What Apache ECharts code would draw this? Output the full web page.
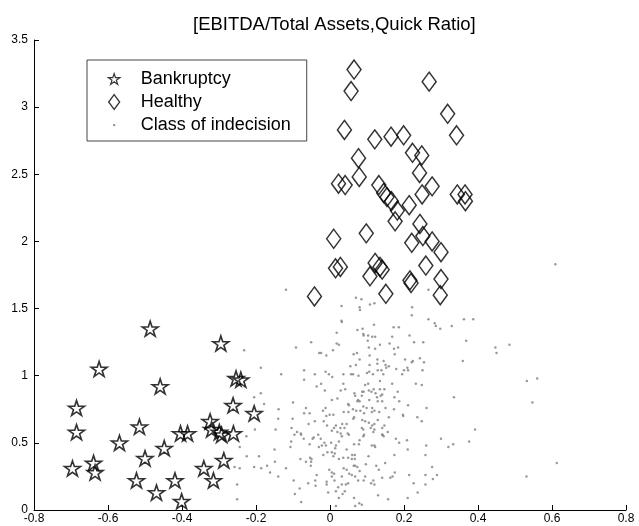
<!DOCTYPE html>
<html>
<head>
<meta charset="utf-8">
<script src="https://cdn.jsdelivr.net/npm/echarts@6/dist/echarts.min.js"></script>
<style>
html,body{margin:0;padding:0;background:#fff;}
#main{width:639px;height:526px;}
</style>
</head>
<body>
<div id="main"></div>
<script>
const titleText = '[EBITDA/Total Assets,Quick Ratio]';
const seriesNames = ['Bankruptcy', 'Healthy', 'Class of indecision'];
const xTicks = { min: -0.8, max: 0.8, interval: 0.2 };
const yTicks = { min: 0, max: 3.5, interval: 0.5 };

const bankruptcy = [
[-0.486,1.35],[-0.295,1.24],[-0.624,1.05],[-0.459,0.92],[-0.254,0.98],[-0.241,0.97],[-0.685,0.76],[-0.262,0.78],[-0.205,0.72],[-0.685,0.58],[-0.515,0.62],[-0.569,0.50],[-0.404,0.57],[-0.385,0.57],[-0.324,0.66],[-0.32,0.60],[-0.299,0.58],[-0.293,0.56],[-0.261,0.57],[-0.448,0.46],[-0.5,0.385],[-0.287,0.37],[-0.639,0.35],[-0.696,0.31],[-0.635,0.28],[-0.341,0.31],[-0.523,0.22],[-0.419,0.22],[-0.315,0.22],[-0.469,0.13],[-0.401,0.065]
];

const healthy = [
[0.065,3.28],[0.057,3.12],[0.268,3.19],[0.318,2.95],[0.039,2.83],[0.342,2.79],[0.121,2.76],[0.165,2.78],[0.199,2.79],[0.223,2.66],[0.248,2.64],[0.077,2.62],[0.242,2.51],[0.079,2.48],[0.023,2.43],[0.041,2.42],[0.132,2.42],[0.145,2.36],[0.154,2.33],[0.276,2.41],[0.249,2.35],[0.344,2.35],[0.365,2.35],[0.366,2.30],[0.166,2.30],[0.182,2.23],[0.214,2.27],[0.176,2.15],[0.243,2.13],[0.01,2.02],[0.098,2.06],[0.251,2.04],[0.276,2.0],[0.3,1.92],[0.221,1.99],[0.015,1.80],[0.028,1.81],[0.122,1.84],[0.135,1.81],[0.141,1.79],[0.108,1.74],[0.259,1.82],[0.216,1.71],[0.219,1.69],[0.3,1.72],[0.151,1.61],[0.298,1.60],[-0.042,1.59]
];

const indecisionLeft = [
[-0.119,1.64],[-0.051,1.25],[-0.092,1.21],[-0.232,1.19],[-0.029,1.17],[-0.187,1.06],[-0.070,1.04],[-0.041,1.01],[-0.132,1.01],[-0.070,0.97],[-0.036,0.92],[-0.187,0.87],
[-0.205,0.84],[-0.178,0.79],[-0.100,0.80],[-0.065,0.76],[-0.070,0.72],[-0.055,0.72],[-0.139,0.75],[-0.140,0.68],[-0.101,0.68],[-0.041,0.66],[-0.058,0.64],[-0.104,0.61],[-0.147,0.60],[-0.203,0.60],[-0.089,0.58],[-0.079,0.57],[-0.078,0.56],[-0.096,0.56],[-0.044,0.54],[-0.047,0.53],[-0.032,0.56],[-0.226,0.55],[-0.071,0.53],[-0.105,0.51],[-0.055,0.49],[-0.030,0.47],[-0.244,0.47],[-0.107,0.47],[-0.150,0.45],[-0.225,0.40],[-0.192,0.40],[-0.080,0.38],[-0.054,0.39],[-0.050,0.38],[-0.065,0.36],[-0.051,0.36],[-0.149,0.36],[-0.170,0.33],[-0.258,0.32],[-0.244,0.31],[-0.205,0.32],[-0.186,0.31],[-0.119,0.31],[-0.052,0.33],[-0.162,0.28],[-0.140,0.25],[-0.036,0.26],[-0.098,0.22],[-0.059,0.20],[-0.039,0.18],[-0.040,0.22],[-0.251,0.19],[-0.082,0.16],[-0.095,0.12],[-0.251,0.08],[-0.078,0.06]
];

const indecisionUpper = [
[0.070,1.58],[0.085,1.57],[0.266,1.64],[0.108,1.53],[0.120,1.54],[0.031,1.52],[0.080,1.51],[0.081,1.49],[0.222,1.51],[0.221,1.45],[0.266,1.42],[0.031,1.41],[0.032,1.40],[0.119,1.38],[0.172,1.36],[0.186,1.36],[0.088,1.35],[0.074,1.34],[0.018,1.32],[0.090,1.31],[0.091,1.30],[0.103,1.30],[0.114,1.29],[0.122,1.29],[0.168,1.29],[0.215,1.30],[0.102,1.26],[0.227,1.25],[0.018,1.24],[0.024,1.23],[0.161,1.24],[0.135,1.23],[0.184,1.21],[0.105,1.21],[0.122,1.20],[0.008,1.19],[0.173,1.20],[-0.024,1.17],[0.073,1.17],[-0.010,1.15],[0.064,1.16],[0.175,1.16],[0.107,1.15],[0.203,1.12],[0.243,1.13],[0.080,1.12],[0.128,1.12],[0.145,1.11],[0.254,1.10],[0.070,1.08],[0.055,1.07],[0.107,1.08],[0.128,1.09],[0.150,1.08],[0.159,1.07],[0.152,1.06],[0.179,1.05],[0.209,1.06],[0.211,1.04],[0.200,1.04],[0.250,1.04],[0.129,1.04],[0.139,1.04],[0.106,1.03],[0.100,1.02],[-0.012,1.03],[0.057,1.01],[0.062,1.01],[0.036,1.01],[0.144,1.01],[-0.003,1.01],[0.077,1.00],[0.116,1.01],[0.195,1.01],[0.006,0.99],[0.135,0.96],[-0.024,0.94],[0.036,0.94],[0.095,0.93],[0.103,0.94],[0.168,0.94],[0.232,0.94],[0.248,0.93],[0.118,0.90],[0.105,0.89],[0.112,0.88],[0.135,0.90],[0.147,0.90],[0.087,0.88],[0.091,0.88],[0.029,0.89],[0.041,0.90],[-0.014,0.89],[0.183,0.88],[0.066,0.87],[0.123,0.87],[0.141,0.86]
];

const indecisionLower = [
[0.068,0.85],[0.086,0.85],[0.174,0.84],[0.020,0.83],[0.127,0.84],[0.137,0.85],[0.106,0.82],[0.076,0.82],[0.080,0.81],[0.074,0.81],[0.005,0.82],[0.187,0.81],[0.129,0.81],[0.141,0.81],[0.211,0.78],[0.049,0.79],[0.051,0.78],[0.090,0.77],[0.099,0.76],[-0.012,0.76],[-0.019,0.74],[0.261,0.76],[0.062,0.75],[0.071,0.74],[0.082,0.74],[0.114,0.76],[0.120,0.74],[0.113,0.73],[0.150,0.76],[0.173,0.75],[0.133,0.73],[0.037,0.73],[0.050,0.73],[0.092,0.72],[-0.001,0.71],[-0.010,0.70],[0.009,0.71],[0.197,0.71],[0.198,0.70],[0.065,0.69],[0.063,0.68],[0.159,0.69],[0.236,0.69],[0.087,0.67],[0.095,0.66],[0.129,0.67],[0.248,0.66],[-0.017,0.66],[0.033,0.64],[0.045,0.64],[0.016,0.63],[0.105,0.65],[0.120,0.64],[0.114,0.63],[0.147,0.63],[-0.008,0.63],[0.011,0.61],[0.039,0.61],[0.028,0.61],[0.086,0.61],[0.090,0.60],[0.110,0.61],[0.120,0.60],[0.141,0.61],[0.005,0.59],[0.117,0.58],[0.020,0.58],[0.029,0.57],[0.048,0.57],[0.051,0.56],[0.156,0.58],[0.141,0.56],[0.145,0.55],[0.142,0.56],[0.090,0.55],[0.092,0.56],[0.032,0.55],[-0.025,0.53],[0.178,0.53],[0.208,0.52],[0.024,0.51],[0.080,0.52],[-0.015,0.50],[0.003,0.50],[0.187,0.50],[0.065,0.49],[0.078,0.49],[-0.022,0.48],[-0.011,0.48],[0.016,0.48],[0.120,0.48],[0.113,0.48],[0.122,0.47],[0.260,0.48],[0.014,0.46],[0.045,0.45],[0.210,0.45],[0.005,0.43],[0.013,0.42],[-0.007,0.43],[-0.018,0.41],[0.009,0.40],[0.174,0.41],[0.258,0.41],[0.060,0.41],[0.067,0.41],[0.104,0.40],[0.024,0.38],[0.036,0.39],[0.049,0.39],[0.059,0.38],[0.067,0.38],[0.149,0.35],[0.097,0.34],[0.064,0.33],[0.068,0.33],[0.074,0.32],[0.125,0.33],[0.037,0.31],[0.045,0.30],[-0.002,0.30],[0.132,0.30],[0.175,0.28],[0.080,0.29],[0.005,0.28],[0.011,0.27],[0.005,0.25],[0.052,0.27],[0.059,0.26],[0.032,0.25],[0.095,0.25],[0.068,0.25],[0.169,0.25],[0.163,0.24],[0.214,0.26],[0.258,0.26],[0.141,0.24],[0.278,0.23],[0.012,0.22],[0.076,0.22],[0.091,0.22],[0.117,0.22],[0.111,0.20],[0.120,0.19],[-0.009,0.21],[-0.009,0.19],[0.049,0.20],[0.043,0.19],[0.032,0.19],[0.226,0.20],[0.258,0.19],[0.022,0.17],[0.040,0.14],[0.034,0.12],[0.016,0.14],[-0.005,0.13],[0.237,0.13],[0.130,0.11],[0.065,0.09],[0.024,0.09],[0.157,0.08],[0.210,0.09],[0.079,0.05],[0.086,0.04],[0.068,0.03],[0.016,0.03]
];

const indecisionRight = [
[0.609,1.83],[0.362,1.42],[0.387,1.42],[0.283,1.39],[0.286,1.37],[0.298,1.35],[0.329,1.37],[0.252,1.25],[0.368,1.26],[0.447,1.21],[0.450,1.17],[0.485,1.23],[0.224,1.11],[0.221,1.10],[0.359,1.11],[0.532,0.96],[0.560,0.98],[0.335,0.84],[0.547,0.80],[0.392,0.60],[0.300,0.53],[0.320,0.47],[0.333,0.49],[0.376,0.51],[0.276,0.32],[0.289,0.26],[0.531,0.25],[0.613,0.35]
];

const indecision = indecisionLeft.concat(indecisionUpper, indecisionLower, indecisionRight);

const FONT = '"Liberation Sans", Arial, Helvetica, sans-serif';
const starPath = 'path://M50,0 L61.2,34.5 L97.6,34.5 L68.2,55.9 L79.4,90.5 L50,69.1 L20.6,90.5 L31.8,55.9 L2.4,34.5 L38.8,34.5 Z';
// legend icons drawn in a 43x16 box (the leading moves fix the box)
const starIcon = 'path://M0,0 M43,16 M21.5,2.6 L22.84,6.71 L27.21,6.71 L23.68,9.28 L25.03,13.43 L21.5,10.86 L17.97,13.43 L19.32,9.28 L15.79,6.71 L20.16,6.71 Z';
const diamondIcon = 'path://M0,0 M43,16 M21.5,0.6 L27,8 L21.5,15.4 L16,8 Z';
const dotIcon = 'path://M0,0 M43,16 M20.4,7 L22.6,7 L22.6,9.2 L20.4,9.2 Z';

const chart = echarts.init(document.getElementById('main'), null, { renderer: 'canvas' });
chart.setOption({
  animation: false,
  backgroundColor: '#fff',
  textStyle: { fontFamily: FONT },
  title: {
    text: titleText,
    left: 188,
    top: 10,
    textStyle: { fontFamily: FONT, fontSize: 18.5, fontWeight: 'normal', color: '#000' }
  },
  legend: {
    orient: 'vertical',
    left: 87,
    top: 60,
    padding: [10, 16, 7, 5],
    itemWidth: 43,
    itemHeight: 16,
    itemGap: 5,
    borderColor: '#444',
    borderWidth: 1,
    backgroundColor: '#fff',
    textStyle: { fontFamily: FONT, fontSize: 18, color: '#000' },
    data: [
      { name: seriesNames[0], icon: starIcon, itemStyle: { borderWidth: 1.2 } },
      { name: seriesNames[1], icon: diamondIcon, itemStyle: { borderWidth: 1.3 } },
      { name: seriesNames[2], icon: dotIcon }
    ]
  },
  grid: { left: 34, right: 13, top: 40, bottom: 16 },
  xAxis: {
    type: 'value',
    min: xTicks.min, max: xTicks.max, interval: xTicks.interval,
    axisLine: { onZero: false, lineStyle: { color: '#000', width: 1 } },
    axisTick: { inside: true, length: 5, lineStyle: { color: '#000' } },
    axisLabel: { color: '#000', fontSize: 12, margin: 3, fontFamily: FONT },
    splitLine: { show: false }
  },
  yAxis: {
    type: 'value',
    min: yTicks.min, max: yTicks.max, interval: yTicks.interval,
    axisLine: { show: true, onZero: false, lineStyle: { color: '#000', width: 1 } },
    axisTick: { show: true, inside: true, length: 5, lineStyle: { color: '#000' } },
    axisLabel: { color: '#000', fontSize: 12, margin: 6, fontFamily: FONT },
    splitLine: { show: false }
  },
  series: [
    {
      name: seriesNames[2], type: 'scatter', data: indecision,
      symbol: 'circle', symbolSize: 2.5,
      itemStyle: { color: '#808080' }, z: 1
    },
    {
      name: seriesNames[0], type: 'scatter', data: bankruptcy,
      symbol: starPath, symbolSize: [16, 15],
      itemStyle: { color: 'rgba(255,255,255,0)', borderColor: '#000', borderWidth: 1.6 }, z: 3
    },
    {
      name: seriesNames[1], type: 'scatter', data: healthy,
      symbol: 'diamond', symbolSize: [14, 19],
      itemStyle: { color: 'rgba(255,255,255,0)', borderColor: '#000', borderWidth: 1.5 }, z: 2
    }
  ]
});
</script>
</body>
</html>
